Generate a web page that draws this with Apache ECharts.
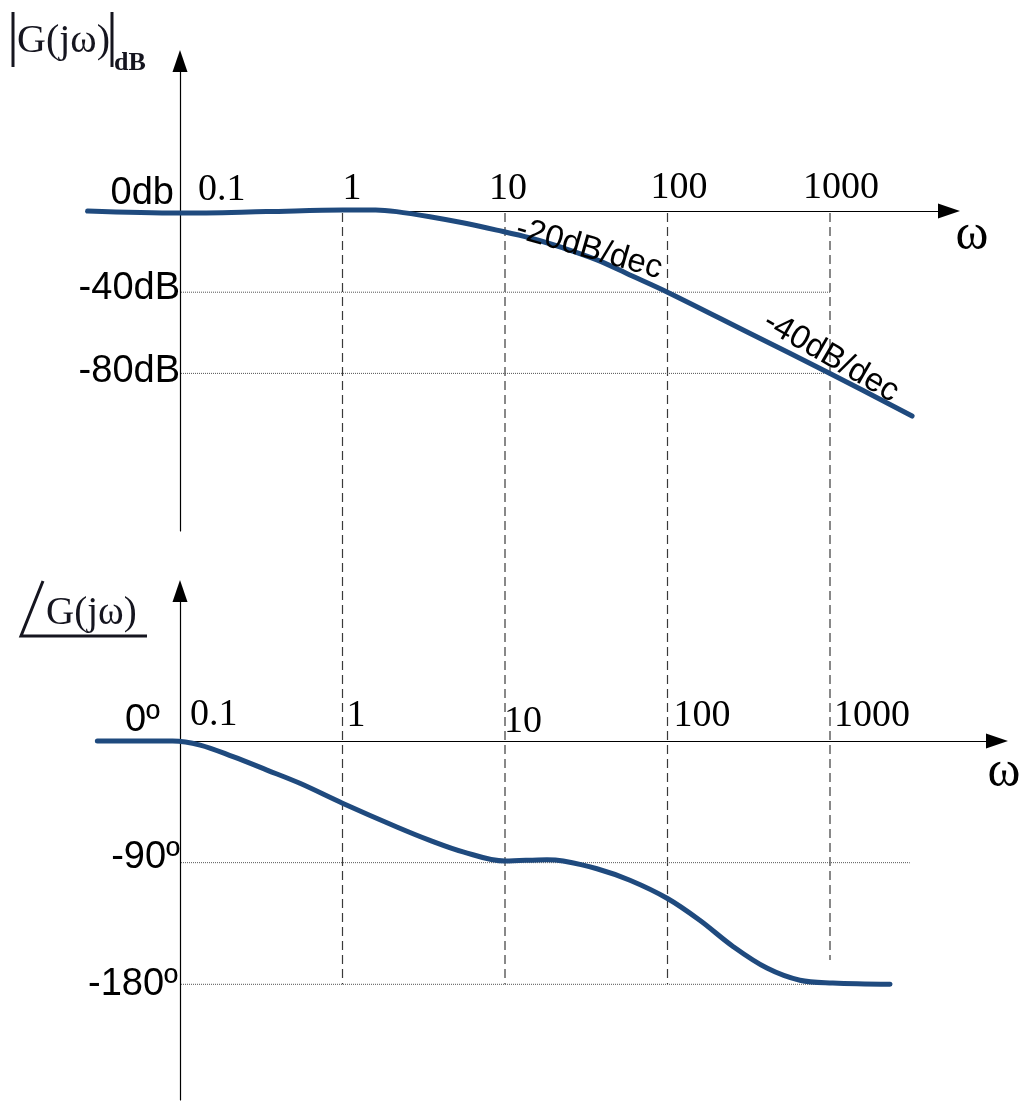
<!DOCTYPE html>
<html><head><meta charset="utf-8">
<script src="https://cdn.jsdelivr.net/npm/echarts@6/dist/echarts.min.js"></script>
<style>html,body{margin:0;padding:0;background:#fff}#c{width:1021px;height:1101px}</style>
</head><body><div id="c"></div>
<script>
// ---------- data ----------
const decadeTicks = [0.1, 1, 10, 100, 1000];
const decadeLabels = ['0.1', '1', '10', '100', '1000'];
const magTickValues = [0, -40, -80];
const magTickLabels = ['0db', '-40dB', '-80dB'];
const phaseTickValues = [0, -90, -180];
const phaseTickLabels = ['0º', '-90º', '-180º'];
const magOmega = [0.027, 0.1, 0.34, 1, 1.6, 2.15, 3.45, 5.5, 8.9, 14.3, 22.8, 36.8, 58.7, 100, 316, 1000, 3200];
const magDb    = [0, -1, -0.3, 0.5, 0.5, -0.3, -2.8, -5.8, -9.4, -13.3, -18.2, -24.1, -31.5, -40, -60, -80, -101];
const phaseOmega = [0.031, 0.09, 0.133, 0.212, 0.343, 0.547, 1, 2.16, 3.45, 5.52, 10, 18.1, 22.8, 36.8, 58.7, 100, 158, 253, 409, 653, 1040, 2340];
const phaseDeg   = [0, 0, -3, -11.6, -21.5, -31.3, -46, -63.6, -73.5, -82, -88.8, -87.8, -88.8, -94.5, -103, -116.5, -132.6, -152, -168, -177, -179, -180];
const slopeLabels = ['-20dB/dec', '-40dB/dec'];

// ---------- styling / layout ----------
const SERIF = '"Liberation Serif","Times New Roman",serif';
const SANS = '"Liberation Sans",Arial,sans-serif';
const CURVE = '#1f4a7e';
const PX_DEC = 162.5, PX_DB = 2.03, PX_DEG = 1.3517;
const AXIS_X = 180;              // pixel of the vertical axes (omega = 0.1)
const g0 = {left: 86, right: 949, top: 61, bottom: 531, zeroY: 211};
const g1 = {left: 96, right: 997, top: 591, bottom: 1100, zeroY: 741};
// x value = decades above omega = 0.1
const D = w => Math.log10(w / 0.1);

function axisLineCfg(onZero) {
  return {show: true, onZero: onZero, symbol: ['none', 'triangle'], symbolSize: [15, 22],
          lineStyle: {color: '#000', width: 1.2}};
}
const hidden = {axisTick: {show: false}, axisLabel: {show: false}, splitLine: {show: false}};
function gridOf(g) {
  return {left: g.left, top: g.top, width: g.right - g.left, height: g.bottom - g.top, containLabel: false, outerBoundsMode: 'none'};
}
function xOf(g, idx) {
  return Object.assign({gridIndex: idx, type: 'value', min: (g.left - AXIS_X) / PX_DEC, max: (g.right - AXIS_X) / PX_DEC, axisLine: axisLineCfg(true)}, hidden);
}
function yOf(g, idx, pxPerUnit) {
  return Object.assign({gridIndex: idx, type: 'value', min: -(g.bottom - g.zeroY) / pxPerUnit, max: (g.zeroY - g.top) / pxPerUnit, axisLine: axisLineCfg(true)}, hidden);
}

const option = {
  animation: false,
  backgroundColor: '#fff',
  grid: [gridOf(g0), gridOf(g1)],
  xAxis: [xOf(g0, 0), xOf(g1, 1)],
  yAxis: [yOf(g0, 0, PX_DB), yOf(g1, 1, PX_DEG)],
  series: [
    {type: 'line', xAxisIndex: 0, yAxisIndex: 0, data: magOmega.map((w, i) => [D(w), magDb[i]]),
     smooth: 0.35, showSymbol: false, clip: false, z: 5,
     lineStyle: {color: CURVE, width: 5, cap: 'round', join: 'round'}},
    {type: 'line', xAxisIndex: 1, yAxisIndex: 1, data: phaseOmega.map((w, i) => [D(w), phaseDeg[i]]),
     smooth: 0.35, showSymbol: false, clip: false, z: 5,
     lineStyle: {color: CURVE, width: 5, cap: 'round', join: 'round'}}
  ]
};

const chart = echarts.init(document.getElementById('c'), null, {renderer: 'canvas'});
chart.setOption(option);

const p0 = v => chart.convertToPixel({gridIndex: 0}, [D(v[0]), v[1]]);
const p1 = v => chart.convertToPixel({gridIndex: 1}, [D(v[0]), v[1]]);
const els = [];

// dashed verticals spanning both panels
const dashEnds = [-180, -180, -180, -162];
decadeTicks.slice(1).forEach((w, i) => {
  const a = p0([w, 0]), b = p1([w, dashEnds[i]]);
  els.push({type: 'line', z: 1, shape: {x1: a[0], y1: a[1] + 2, x2: b[0], y2: b[1]},
    style: {stroke: '#3a3a3a', lineWidth: 1.2, lineDash: [9, 5]}});
});
// dotted horizontal reference lines
[[p0, -40, 1000], [p0, -80, 1000], [p1, -90, 3100], [p1, -180, 2350]].forEach(([pf, v, wEnd]) => {
  const a = pf([0.1, v]), b = pf([wEnd, v]);
  els.push({type: 'line', z: 1, shape: {x1: a[0] + 1, y1: a[1], x2: b[0], y2: b[1]},
    style: {stroke: '#555', lineWidth: 1, lineDash: [1, 1]}});
});

// decade labels
const topDx = [18, 0, -16, -17, -27], topBase = [-8, -9, -9, -10, -10];
const botDx = [10, 4, -1, 6, 4], botBase = [-13, -12, -6, -12, -12];
decadeTicks.forEach((w, i) => {
  const a = p0([w, 0]);
  els.push({type: 'text', z: 10, x: a[0] + topDx[i], y: a[1] + topBase[i] - 13,
    style: {text: decadeLabels[i], font: '38px ' + SERIF, fill: '#000', textAlign: 'left', textVerticalAlign: 'middle'}});
  const b = p1([w, 0]);
  els.push({type: 'text', z: 10, x: b[0] + botDx[i], y: b[1] + botBase[i] - 13,
    style: {text: decadeLabels[i], font: '38px ' + SERIF, fill: '#000', textAlign: 'left', textVerticalAlign: 'middle'}});
});

// value labels
const magDxR = [-6, 0, 0], magDy = [-17, -4, -2];
magTickValues.forEach((v, i) => {
  const a = p0([0.1, v]);
  els.push({type: 'text', z: 10, x: a[0] + magDxR[i], y: a[1] + magDy[i],
    style: {text: magTickLabels[i], font: '38px ' + SANS, fill: '#000', textAlign: 'right', textVerticalAlign: 'middle'}});
});
const phDxR = [-20, 0, -2], phDy = [-20, -5, 0];
phaseTickValues.forEach((v, i) => {
  const a = p1([0.1, v]);
  els.push({type: 'text', z: 10, x: a[0] + phDxR[i], y: a[1] + phDy[i],
    style: {text: phaseTickLabels[i], font: '38px ' + SANS, fill: '#000', textAlign: 'right', textVerticalAlign: 'middle'}});
});

// slope annotations
const s1 = p0([32.9, -18.7]), s2 = p0([1014, -71.9]);
els.push({type: 'text', z: 10, x: s1[0], y: s1[1], rotation: -16 * Math.PI / 180,
  style: {text: slopeLabels[0], font: '33px ' + SANS, fill: '#000', textAlign: 'center', textVerticalAlign: 'middle'}});
els.push({type: 'text', z: 10, x: s2[0], y: s2[1], rotation: -30 * Math.PI / 180,
  style: {text: slopeLabels[1], font: '33px ' + SANS, fill: '#000', textAlign: 'center', textVerticalAlign: 'middle'}});

// omega axis names
els.push({type: 'text', z: 10, x: 972, y: 236,
  style: {text: 'ω', font: '50px ' + SERIF, fill: '#000', textAlign: 'center', textVerticalAlign: 'middle'}});
els.push({type: 'text', z: 10, x: 1004, y: 773,
  style: {text: 'ω', font: '50px ' + SERIF, fill: '#000', textAlign: 'center', textVerticalAlign: 'middle'}});

// titles
const TC = '#15151f';
els.push({type: 'line', shape: {x1: 13, y1: 12, x2: 13, y2: 67}, style: {stroke: TC, lineWidth: 3}});
els.push({type: 'line', shape: {x1: 112, y1: 12, x2: 112, y2: 67}, style: {stroke: TC, lineWidth: 3}});
els.push({type: 'text', x: 17, y: 41,
  style: {text: 'G(jω)', font: '40px ' + SERIF, fill: TC, textAlign: 'left', textVerticalAlign: 'middle'}});
els.push({type: 'text', x: 114, y: 63,
  style: {text: 'dB', font: 'bold 26px ' + SERIF, fill: TC, textAlign: 'left', textVerticalAlign: 'middle'}});
els.push({type: 'polyline', shape: {points: [[43, 581], [21, 636], [147, 636]]}, style: {stroke: TC, lineWidth: 3, fill: null}});
els.push({type: 'text', x: 46, y: 614,
  style: {text: 'G(jω)', font: '39px ' + SERIF, fill: TC, textAlign: 'left', textVerticalAlign: 'middle'}});

chart.setOption({graphic: {elements: els}});
</script>
</body></html>
